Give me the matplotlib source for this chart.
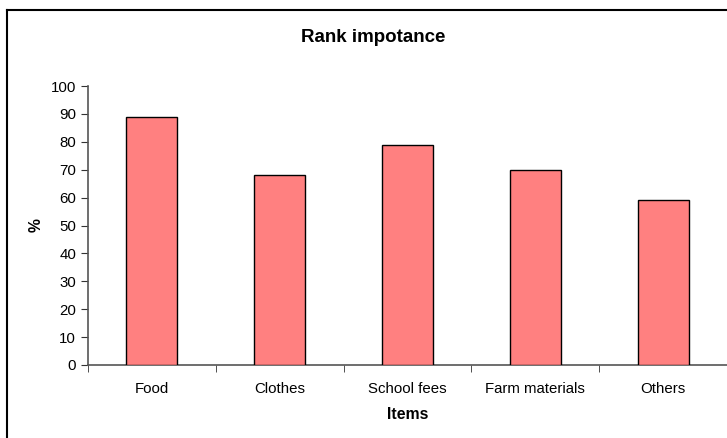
import matplotlib
matplotlib.use('Agg')
import matplotlib.pyplot as plt
from matplotlib.lines import Line2D
import numpy as np

plt.rcParams['font.family'] = ['Liberation Sans', 'DejaVu Sans']

items = ['Food', 'Clothes', 'School fees', 'Farm materials', 'Others']
percent = [89, 68, 79, 70, 59]

W, H = 727, 438
fig = plt.figure(figsize=(W / 100, H / 100), dpi=100)
ax = fig.add_axes([88 / W, (H - 365) / H, (727 - 88) / W, (365 - 86) / H])

x = np.arange(len(items))
ax.bar(x, percent, width=0.4, color='#FF8080', edgecolor='black', linewidth=1.0, zorder=3)

ax.set_xlim(-0.5, len(items) - 0.5)
ax.set_ylim(0, 100)
ax.set_yticks(range(0, 101, 10))
ax.set_xticks(x)
ax.set_xticklabels(items, fontsize=10.8)
ax.set_xticks(np.arange(-0.5, len(items)), minor=True)
ax.tick_params(axis='x', which='major', length=0, pad=12)
ax.tick_params(axis='x', which='minor', length=5, direction='out', color='#333333')
ax.tick_params(axis='y', length=5, direction='out', color='#333333', labelsize=10.8)

for s in ['top', 'right']:
    ax.spines[s].set_visible(False)
for s in ['left', 'bottom']:
    ax.spines[s].set_color('#555555')
    ax.spines[s].set_linewidth(1.2)

ax.set_xlabel('Items', fontsize=11.3, fontweight='bold', labelpad=8)
ax.set_ylabel('%', fontsize=11.3, fontweight='bold', labelpad=5)
fig.text(373 / W, 1 - 38 / H, 'Rank impotance', fontsize=13.5,
         fontweight='bold', ha='center', va='center')

# outer chart frame
fig.add_artist(Line2D([7 / W, 7 / W], [0, 1 - 10 / H], color='black', lw=1.5,
                      transform=fig.transFigure))
fig.add_artist(Line2D([7 / W, 1], [1 - 10 / H, 1 - 10 / H], color='black', lw=1.5,
                      transform=fig.transFigure))

fig.savefig('out.png', dpi=100)
